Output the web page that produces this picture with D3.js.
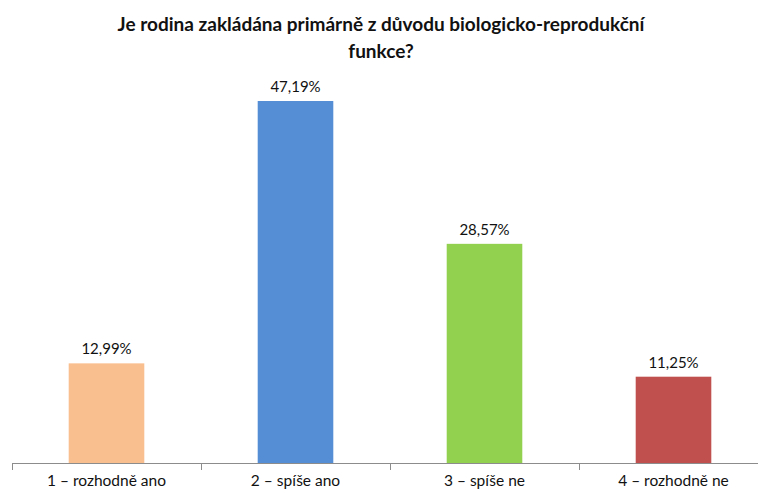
<!DOCTYPE html>
<html>
<head>
<meta charset="utf-8">
<script src="https://cdn.jsdelivr.net/npm/d3@7"></script>
<style>
body { margin: 0; background: #fff; }
text { font-family: Lato, "Open Sans", sans-serif; fill: #111; }
</style>
</head>
<body>
<svg id="chart" width="758" height="493"></svg>
<script>
// data
var categories = ["1 – rozhodně ano", "2 – spíše ano", "3 – spíše ne", "4 – rozhodně ne"];
var values = [12.99, 47.19, 28.57, 11.25];
var colors = ["#F9BF8F", "#558ED5", "#92D050", "#C0504D"];
var titleLines = ["Je rodina zakládána primárně z důvodu biologicko-reprodukční", "funkce?"];

var svg = d3.select("#chart");

var x = d3.scaleBand()
    .domain(categories)
    .range([12, 768])
    .paddingInner(0.6)
    .paddingOuter(0.3);

var y = d3.scaleLinear()
    .domain([0, 47.19])
    .range([463, 101]);

function fmt(v) {
    return v.toFixed(2).replace(".", ",") + "%";
}

// title
svg.append("g")
    .selectAll("text")
    .data(titleLines)
    .enter()
    .append("text")
    .attr("x", 381)
    .attr("y", function(d, i) { return 31 + i * 27; })
    .attr("text-anchor", "middle")
    .style("font-size", "19px")
    .style("font-weight", "bold")
    .text(function(d) { return d; });

// bars
svg.selectAll(".bar")
    .data(values)
    .enter()
    .append("rect")
    .attr("class", "bar")
    .attr("x", function(d, i) { return x(categories[i]); })
    .attr("y", function(d) { return y(d); })
    .attr("width", x.bandwidth())
    .attr("height", function(d) { return y(0) - y(d); })
    .style("fill", function(d, i) { return colors[i]; });

// value labels
svg.selectAll(".val")
    .data(values)
    .enter()
    .append("text")
    .attr("class", "val")
    .attr("x", function(d, i) { return x(categories[i]) + x.bandwidth() / 2; })
    .attr("y", function(d) { return y(d) - 9; })
    .attr("text-anchor", "middle")
    .style("font-size", "15px")
    .text(fmt);

// x axis: line along baseline with ticks at category boundaries
var step = x.step();
var bounds = d3.range(categories.length + 1).map(function(i) { return 12 + i * step; });

svg.append("line")
    .attr("x1", 12)
    .attr("x2", 758)
    .attr("y1", y(0) + 0.5)
    .attr("y2", y(0) + 0.5)
    .style("stroke", "#8c8c8c")
    .style("stroke-width", 1);

svg.selectAll(".tick")
    .data(bounds)
    .enter()
    .append("line")
    .attr("class", "tick")
    .attr("x1", function(d) { return Math.round(d) + 0.5; })
    .attr("x2", function(d) { return Math.round(d) + 0.5; })
    .attr("y1", y(0))
    .attr("y2", y(0) + 7)
    .style("stroke", "#8c8c8c");

svg.selectAll(".cat")
    .data(categories)
    .enter()
    .append("text")
    .attr("class", "cat")
    .attr("x", function(d) { return x(d) + x.bandwidth() / 2; })
    .attr("y", 486)
    .attr("text-anchor", "middle")
    .style("font-size", "15.5px")
    .text(function(d) { return d; });
</script>
</body>
</html>
